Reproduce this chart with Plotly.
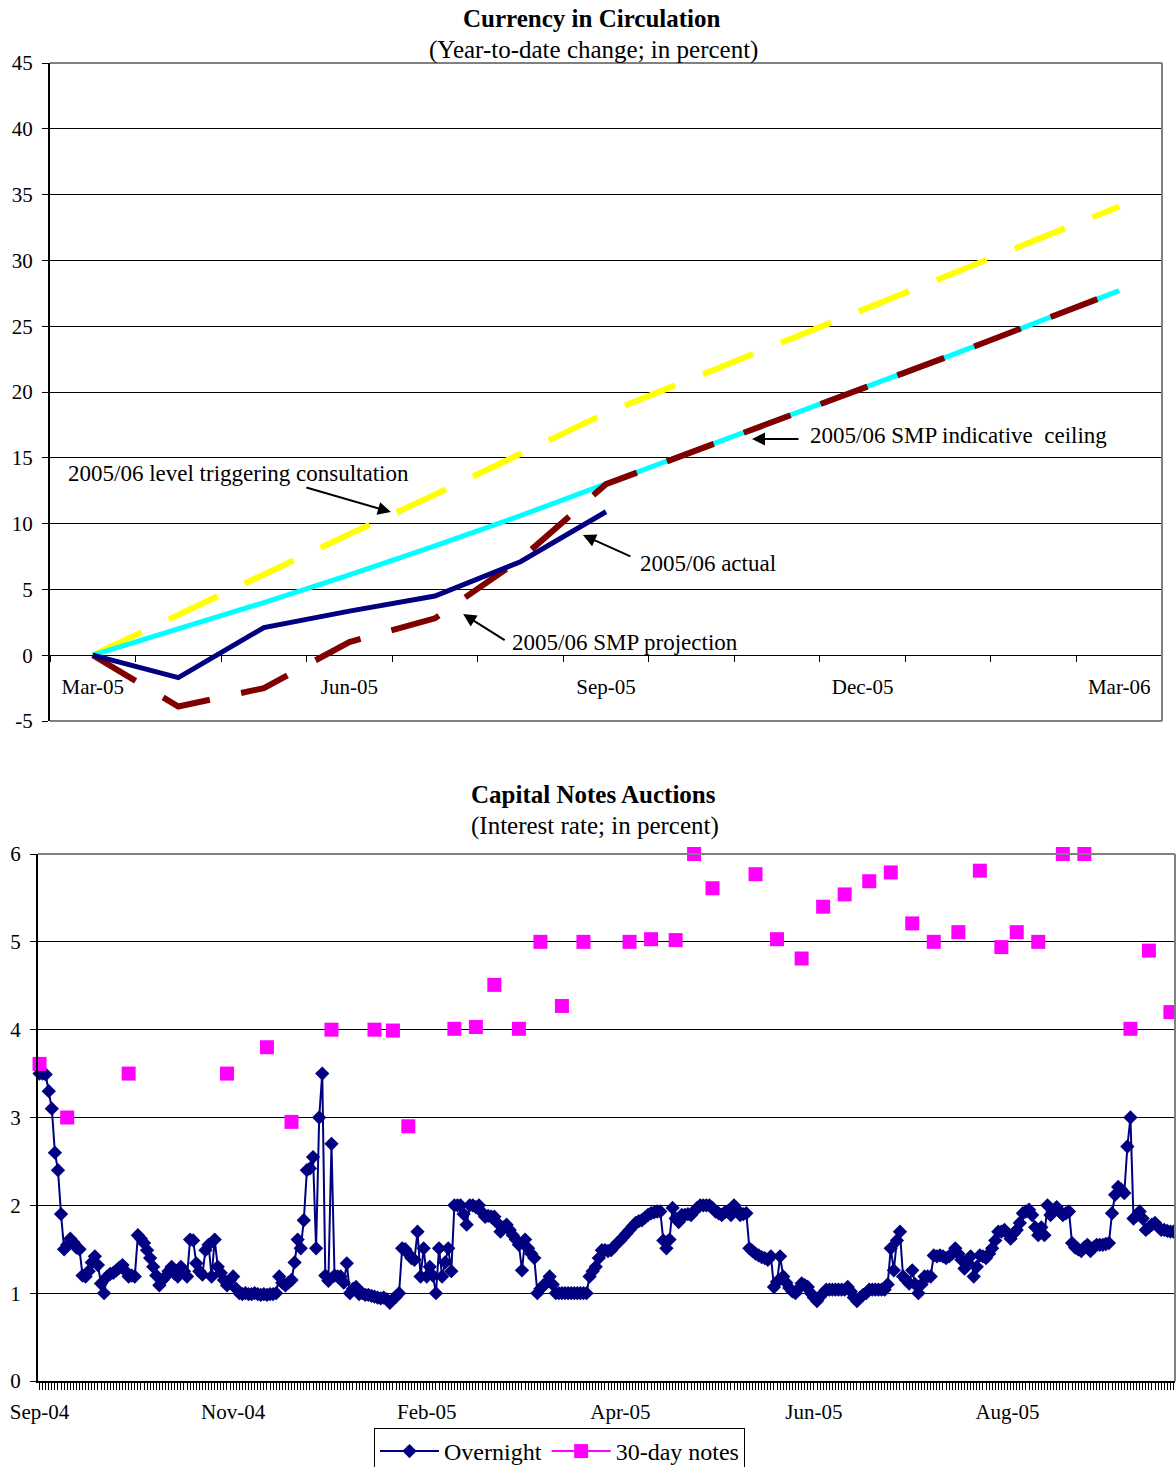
import plotly.graph_objects as go

FONT = "Liberation Serif"

# ---------------- Top chart: Currency in Circulation ----------------
months = ['Mar-05', 'Apr-05', 'May-05', 'Jun-05', 'Jul-05', 'Aug-05', 'Sep-05',
          'Oct-05', 'Nov-05', 'Dec-05', 'Jan-06', 'Feb-06', 'Mar-06']
month_labels = ['Mar-05', '', '', 'Jun-05', '', '', 'Sep-05', '', '', 'Dec-05', '', '', 'Mar-06']
top_yticks = [-5, 0, 5, 10, 15, 20, 25, 30, 35, 40, 45]
top_ytext = ['-5', '0', '5', '10', '15', '20', '25', '30', '35', '40', '45']

trigger = [0, 3.1, 6.1, 9.2, 12.2, 15.3, 18.4, 21.0, 23.6, 26.2, 28.9, 31.5, 34.1]
ceiling = [0, 2.0, 4.0, 6.1, 8.3, 10.6, 13.0, 15.4, 17.8, 20.3, 22.7, 25.2, 27.7]
projection = [0, -3.9, -2.5, 1.0, 2.8, 7.3, 13.0, 15.4, 17.8, 20.3, 22.7, 25.2, 27.7]
actual = [0, -1.7, 2.1, 3.35, 4.5, 7.1, 10.9]

# ---------------- Bottom chart: Capital Notes Auctions ----------------
overnight = [
    3.50, 3.50, 3.49, 3.30, 3.10, 2.60, 2.40, 1.90, 1.50, 1.55,
    1.62, 1.58, 1.52, 1.50, 1.20, 1.19, 1.25, 1.35, 1.42, 1.32,
    1.11, 1.00, 1.19, 1.22, 1.23, 1.26, 1.29, 1.32, 1.25, 1.19,
    1.20, 1.19, 1.66, 1.62, 1.57, 1.49, 1.40, 1.30, 1.20, 1.09,
    1.15, 1.19, 1.25, 1.30, 1.22, 1.19, 1.30, 1.25, 1.19, 1.61,
    1.60, 1.34, 1.25, 1.21, 1.49, 1.55, 1.19, 1.61, 1.30, 1.23,
    1.15, 1.09, 1.15, 1.19, 1.05, 1.00, 0.99, 1.00, 0.99, 0.99,
    1.00, 0.99, 0.98, 0.99, 0.98, 0.99, 0.99, 1.00, 1.19, 1.12,
    1.09, 1.12, 1.15, 1.35, 1.61, 1.51, 1.83, 2.40, 2.42, 2.55,
    1.51, 3.00, 3.50, 1.20, 1.14, 2.70, 1.20, 1.19, 1.19, 1.12,
    1.34, 1.00, 1.05, 1.07, 0.99, 1.00, 0.98, 0.98, 0.97, 0.96,
    0.95, 0.94, 0.95, 0.93, 0.89, 0.93, 0.96, 1.00, 1.51, 1.50,
    1.45, 1.40, 1.38, 1.70, 1.19, 1.51, 1.19, 1.30, 1.20, 1.00,
    1.51, 1.19, 1.35, 1.51, 1.25, 2.00, 2.00, 2.00, 1.90, 1.78,
    2.00, 2.00, 1.98, 2.00, 1.92, 1.87, 1.88, 1.87, 1.87, 1.80,
    1.70, 1.75, 1.78, 1.72, 1.66, 1.61, 1.55, 1.26, 1.61, 1.51,
    1.45, 1.40, 1.00, 1.05, 1.09, 1.12, 1.19, 1.10, 1.00, 1.00,
    1.00, 1.00, 1.00, 1.00, 1.00, 1.00, 1.00, 1.00, 1.00, 1.19,
    1.25, 1.30, 1.40, 1.49, 1.49, 1.48, 1.49, 1.53, 1.57, 1.60,
    1.64, 1.68, 1.72, 1.76, 1.80, 1.82, 1.83, 1.86, 1.89, 1.91,
    1.92, 1.93, 1.93, 1.60, 1.51, 1.61, 1.97, 1.85, 1.81, 1.89,
    1.89, 1.90, 1.89, 1.93, 1.97, 2.00, 2.00, 2.00, 2.00, 1.97,
    1.93, 1.91, 1.89, 1.92, 1.93, 1.89, 2.00, 1.95, 1.89, 1.90,
    1.91, 1.51, 1.48, 1.45, 1.43, 1.41, 1.40, 1.38, 1.42, 1.07,
    1.13, 1.42, 1.19, 1.12, 1.06, 1.02, 1.00, 1.05, 1.11, 1.09,
    1.07, 1.00, 0.95, 0.91, 0.96, 1.00, 1.04, 1.04, 1.04, 1.04,
    1.04, 1.04, 1.04, 1.07, 1.02, 0.95, 0.91, 0.95, 0.98, 1.00,
    1.04, 1.04, 1.04, 1.04, 1.04, 1.04, 1.10, 1.51, 1.26, 1.60,
    1.70, 1.19, 1.15, 1.11, 1.26, 1.10, 1.00, 1.10, 1.19, 1.19,
    1.19, 1.43, 1.42, 1.43, 1.42, 1.40, 1.42, 1.45, 1.51, 1.45,
    1.38, 1.28, 1.35, 1.42, 1.19, 1.30, 1.43, 1.42, 1.40, 1.45,
    1.51, 1.60, 1.70, 1.70, 1.72, 1.68, 1.62, 1.68, 1.72, 1.80,
    1.91, 1.93, 1.95, 1.89, 1.75, 1.66, 1.75, 1.66, 2.00, 1.89,
    1.93, 1.98, 1.93, 1.89, 1.91, 1.93, 1.57, 1.52, 1.50, 1.48,
    1.52, 1.55, 1.48, 1.52, 1.55, 1.55, 1.55, 1.56, 1.57, 1.91,
    2.12, 2.21, 2.18, 2.14, 2.67, 3.00, 1.85, 1.88, 1.93, 1.85,
    1.72, 1.75, 1.78, 1.80, 1.76, 1.72, 1.72, 1.71, 1.70, 1.70,
]
notes_idx = [0, 9, 29, 61, 74, 82, 95, 109, 115, 120,
             135, 142, 148, 156, 163, 170, 177, 192, 199, 207,
             213, 219, 233, 240, 248, 255, 262, 270, 277, 284,
             291, 299, 306, 313, 318, 325, 333, 340, 355, 361, 368]
notes_val = [3.61, 3.00, 3.50, 3.50, 3.80, 2.95, 4.00, 4.00, 3.99, 2.90,
             4.01, 4.03, 4.51, 4.01, 5.00, 4.27, 5.00, 5.00, 5.03, 5.02,
             6.00, 5.61, 5.77, 5.03, 4.81, 5.40, 5.54, 5.69, 5.79, 5.21,
             5.00, 5.11, 5.81, 4.94, 5.11, 5.00, 6.00, 6.00, 4.01, 4.90, 4.20]
date_label_idx = [0, 63, 126, 189, 252, 315]
date_labels = ['Sep-04', 'Nov-04', 'Feb-05', 'Apr-05', 'Jun-05', 'Aug-05']
bottom_yticks = [0, 1, 2, 3, 4, 5, 6]

N = len(overnight)
cat_idx = list(range(N))
notes_full = [None] * N
for i, v in zip(notes_idx, notes_val):
    notes_full[i] = v
ticktext_bottom = [''] * N
for i, t in zip(date_label_idx, date_labels):
    ticktext_bottom[i] = t

W, H = 1176, 1467
def px_x(p):
    return p / W
def px_y(p):
    return 1 - p / H

top_xd = [px_x(50), px_x(1162)]
top_yd = [px_y(721), px_y(63)]
bot_xd = [px_x(38), px_x(1175)]
bot_yd = [px_y(1381), px_y(854)]
zero_pos = top_yd[0] + (0 - (-5)) / 50 * (top_yd[1] - top_yd[0])

fig = go.Figure()
fig.add_trace(go.Scatter(x=months, y=trigger, mode='lines', showlegend=False,
                         name='2005/06 level triggering consultation',
                         line=dict(color='#FFFF00', width=6, dash='54px,30px'),
                         xaxis='x', yaxis='y'))
fig.add_trace(go.Scatter(x=months, y=ceiling, mode='lines', showlegend=False,
                         name='2005/06 SMP indicative ceiling',
                         line=dict(color='#00FFFF', width=5), xaxis='x', yaxis='y'))
fig.add_trace(go.Scatter(x=months, y=projection, mode='lines', showlegend=False,
                         name='2005/06 SMP projection',
                         line=dict(color='#800000', width=6, dash='50px,32px'),
                         xaxis='x', yaxis='y'))
fig.add_trace(go.Scatter(x=months[:len(actual)], y=actual, mode='lines', showlegend=False,
                         name='2005/06 actual',
                         line=dict(color='#000080', width=5), xaxis='x', yaxis='y'))

fig.add_trace(go.Scatter(x=cat_idx, y=overnight, mode='lines+markers', name='Overnight',
                         line=dict(color='#000080', width=2),
                         marker=dict(symbol='diamond', size=11, color='#000080'),
                         xaxis='x2', yaxis='y2', cliponaxis=False))
fig.add_trace(go.Scatter(x=cat_idx, y=notes_full, mode='lines+markers', name='30-day notes',
                         connectgaps=False,
                         line=dict(color='#FF00FF', width=2),
                         marker=dict(symbol='square', size=14, color='#FF00FF'),
                         xaxis='x2', yaxis='y2', cliponaxis=False))

TS = 25
AS = 23
annotations = [
    dict(text='<b>Currency in Circulation</b>', x=592 / W, y=px_y(18), xref='paper', yref='paper',
         xanchor='center', yanchor='middle', showarrow=False, font=dict(size=TS)),
    dict(text='(Year-to-date change; in percent)', x=593 / W, y=px_y(50), xref='paper', yref='paper',
         xanchor='center', yanchor='middle', showarrow=False, font=dict(size=TS)),
    dict(text='<b>Capital Notes Auctions</b>', x=593 / W, y=px_y(794), xref='paper', yref='paper',
         xanchor='center', yanchor='middle', showarrow=False, font=dict(size=TS)),
    dict(text='(Interest rate; in percent)', x=595 / W, y=px_y(826), xref='paper', yref='paper',
         xanchor='center', yanchor='middle', showarrow=False, font=dict(size=TS)),
    dict(text='2005/06 level triggering consultation', x=-0.316, y=13.77, xref='x', yref='y',
         xanchor='left', yanchor='middle', showarrow=False, font=dict(size=AS)),
    dict(text='2005/06 SMP indicative\u00a0 ceiling', x=8.36, y=16.66, xref='x', yref='y',
         xanchor='left', yanchor='middle', showarrow=False, font=dict(size=AS)),
    dict(text='2005/06 actual', x=6.374, y=7.0, xref='x', yref='y',
         xanchor='left', yanchor='middle', showarrow=False, font=dict(size=AS)),
    dict(text='2005/06 SMP projection', x=4.877, y=1.0, xref='x', yref='y',
         xanchor='left', yanchor='middle', showarrow=False, font=dict(size=AS)),
]
arrow_style = dict(text='', showarrow=True, arrowhead=2, arrowsize=1.3, arrowwidth=2,
                   arrowcolor='black', standoff=0, xref='x', yref='y')
for (hx, hy, ax, ay) in [(3.485, 10.88, -86, -25), (7.707, 16.43, 48, 0),
                         (5.73, 9.13, 49, 22), (4.33, 3.13, 43, 27)]:
    a = dict(arrow_style)
    a.update(x=hx, y=hy, ax=ax, ay=ay)
    annotations.append(a)

GRAY = '#808080'
def edge(xr, yr, x0, y0, x1, y1):
    return dict(type='line', xref=xr, yref=yr, x0=x0, y0=y0, x1=x1, y1=y1,
                line=dict(color=GRAY, width=2), layer='above')

shapes = [
    edge('x domain', 'y domain', 0, 1, 1, 1),
    edge('x domain', 'y domain', 1, 0, 1, 1),
    edge('x domain', 'y domain', 0, 0, 1, 0),
    edge('x2 domain', 'y2 domain', 0, 1, 1, 1),
    edge('x2 domain', 'y2 domain', 1, 0, 1, 1),
]

fig.update_layout(
    width=W, height=H,
    margin=dict(l=0, r=0, t=0, b=0, autoexpand=False),
    paper_bgcolor='white', plot_bgcolor='white',
    font=dict(family=FONT, size=21, color='black'),
    showlegend=True,
    legend=dict(orientation='h', x=px_x(374), xanchor='left', y=px_y(1428), yanchor='top',
                bordercolor='black', borderwidth=1, bgcolor='white',
                font=dict(size=24), itemwidth=59, tracegroupgap=0),
    xaxis=dict(domain=top_xd, type='category', anchor='free', position=zero_pos,
               range=[-0.5, 12.5], tickmode='array', tickvals=months, ticktext=month_labels,
               tickson='boundaries', ticks='outside', ticklen=6, tickwidth=1, tickcolor='black',
               showgrid=False, zeroline=False, showline=False, ticklabelstandoff=17),
    yaxis=dict(domain=top_yd, anchor='x', range=[-5, 45], tickmode='array', tickvals=top_yticks,
               ticktext=top_ytext,
               ticks='outside', ticklen=6, tickcolor='black', showgrid=True, gridcolor='black',
               gridwidth=1, showline=True, linecolor='black', linewidth=2, zeroline=False,
               ticklabelstandoff=5),
    xaxis2=dict(domain=bot_xd, anchor='y2', range=[-0.5, N - 0.5], tickmode='array',
                tickvals=cat_idx, ticktext=ticktext_bottom, ticks='outside', ticklen=7,
                tickwidth=1, tickcolor='black', showgrid=False, zeroline=False, showline=True,
                linecolor='black', linewidth=2, ticklabelstandoff=4),
    yaxis2=dict(domain=bot_yd, anchor='x2', range=[0, 6], tickmode='array', tickvals=bottom_yticks,
                ticks='outside', ticklen=6, tickcolor='black', showgrid=True, gridcolor='black',
                gridwidth=1, showline=True, linecolor='black', linewidth=2, zeroline=False,
                ticklabelstandoff=5),
    annotations=annotations,
    shapes=shapes,
)

fig.write_html("out.html", config={'displayModeBar': False},
               post_script="document.body.style.margin='0px';")
